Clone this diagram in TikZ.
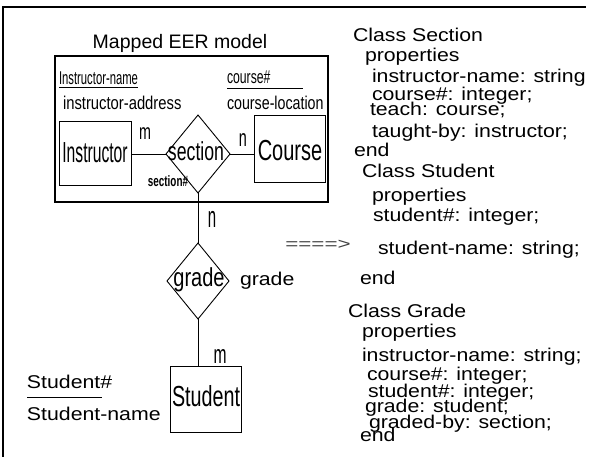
\documentclass[tikz,border=0pt]{standalone}
\usepackage{fontspec}
\usepackage{graphicx}
\setmainfont{Liberation Sans}
\newfontfamily\rfont[FakeStretch=1.15]{Liberation Sans}
\usetikzlibrary{shapes.geometric}
\newcommand\hs[2]{\scalebox{#1}[1]{#2}}
\newcommand\fsz[1]{\fontsize{#1}{#1}\selectfont}
\begin{document}
\begin{tikzpicture}[x=1pt,y=-1pt,
  every node/.style={inner sep=0pt, outer sep=0pt},
  ent/.style={draw, line width=0.9pt, rectangle},
  rel/.style={draw, line width=0.9pt, diamond, shape aspect=0.82},
  conn/.style={line width=0.9pt},
  rt/.style={font=\rfont\fsz{18.5}, anchor=base west},
  lt/.style={anchor=base west},
  card/.style={anchor=center}
]
\useasboundingbox (0,0) rectangle (592,457);
\fill[white] (0,0) rectangle (592,457);

% outer frame
\coordinate (fbl) at (3,457);
\coordinate (ftl) at (3,7);
\coordinate (ftr) at (586,7);
\draw[line width=1.6pt] (fbl) -- (ftl) -- (ftr);

% mapped EER box
\node[draw, line width=1.1pt, minimum width=273pt, minimum height=146pt] (eer) at (191.5,129) {};
\node[anchor=center] (title) at (180,43) {\fsz{19.5}Mapped EER model};

% attributes
\node[lt] (iname) at (59,85) {\fsz{18.5}\hs{0.61}{Instructor-name}};
\draw[line width=0.8pt] ([yshift=-2.5pt]iname.base west) -- ([yshift=-2.5pt]iname.base east);
\node[lt] (iaddr) at (63,110) {\fsz{18.5}\hs{0.8}{instructor-address}};
\node[lt] (cnum) at (227,84) {\fsz{18.5}\hs{0.66}{course\#}};
\coordinate (cul1) at (227,88);
\coordinate (cul2) at (303,88);
\draw[line width=0.8pt] (cul1) -- (cul2);
\node[lt] (cloc) at (227,110) {\fsz{18.5}\hs{0.77}{course-location}};

% entities and relationships
\node[ent, minimum width=72pt, minimum height=64pt] (ins) at (95,153) {};
\node[anchor=center] (inst) at (ins) {\fsz{29}\hs{0.54}{Instructor}};
\node[rel, minimum width=64pt, minimum height=78pt] (sec) at (198,154) {};
\node[anchor=center] (sect) at (196,151) {\fsz{26}\hs{0.68}{section}};
\node[ent, minimum width=71pt, minimum height=67pt] (crs) at (289.5,148.5) {};
\node[anchor=center] (crst) at (290,151) {\fsz{29}\hs{0.69}{Course}};
\node[anchor=center] (secnum) at (168,181) {\fsz{15}\bfseries\hs{0.66}{section\#}};

\node[rel, minimum width=62pt, minimum height=76pt] (grd) at (198,281) {};
\node[anchor=base] (grdt) at (199,287) {\fsz{26}\hs{0.77}{grade}};
\node[lt] (grdl) at (240,286) {\rfont\fsz{18.5}grade};

\node[ent, minimum width=71pt, minimum height=66pt] (stu) at (205.5,399) {};
\node[anchor=center] (stut) at (206,396) {\fsz{29}\hs{0.68}{Student}};

\node[lt] (snum) at (27,388) {\rfont\fsz{18.5}Student\#};
\coordinate (sul1) at (27,397);
\coordinate (sul2) at (102,397);
\draw[line width=0.8pt] (sul1) -- (sul2);
\node[lt] (sname) at (27,420) {\rfont\fsz{18.5}Student-name};

% connectors
\draw[conn] (ins.east |- sec.west) -- (sec.west);
\draw[conn] (sec.east) -- (sec.east -| crs.west);
\draw[conn] (sec.south) -- (grd.north);
\draw[conn] (grd.south) -- (grd.south |- stu.north);

% cardinalities
\node[card] (m1) at (145,134) {\fsz{22}\hs{0.65}{m}};
\node[card] (n1) at (243,140) {\fsz{24}\hs{0.6}{n}};
\node[card] (n2) at (212,219) {\fsz{30}\hs{0.5}{n}};
\node[card] (m2) at (220,357) {\fsz{26}\hs{0.6}{m}};

% mapping arrow
\node[anchor=center, text=black!75] (arr) at (318,245) {\fsz{16}\hs{1.4}{====>}};

% class definitions
\node[rt] (c1) at (353,42) {Class Section};
\node[rt] (c2) at (365,62) {properties};
\node[rt] (c3) at (372,83) {instructor-name: string};
\node[rt] (c4) at (372,101) {course\#: integer;};
\node[rt] (c5) at (370,116) {teach: course;};
\node[rt] (c6) at (372,138) {taught-by: instructor;};
\node[rt] (c7) at (354,157) {end};
\node[rt] (c8) at (362,178) {Class Student};
\node[rt] (c9) at (372,202) {properties};
\node[rt] (c10) at (373,222) {student\#: integer;};
\node[rt] (c11) at (378,255) {student-name: string;};
\node[rt] (c12) at (360,285) {end};
\node[rt] (c13) at (348,317) {Class Grade};
\node[rt] (c14) at (362,337) {properties};
\node[rt] (c15) at (362,361) {instructor-name: string;};
\node[rt] (c16) at (367,380) {course\#: integer;};
\node[rt] (c17) at (368,397) {student\#: integer;};
\node[rt] (c18) at (365,412) {grade: student;};
\node[rt] (c19) at (369,428) {graded-by: section;};
\node[rt] (c20) at (360,441) {end};
\end{tikzpicture}
\end{document}
